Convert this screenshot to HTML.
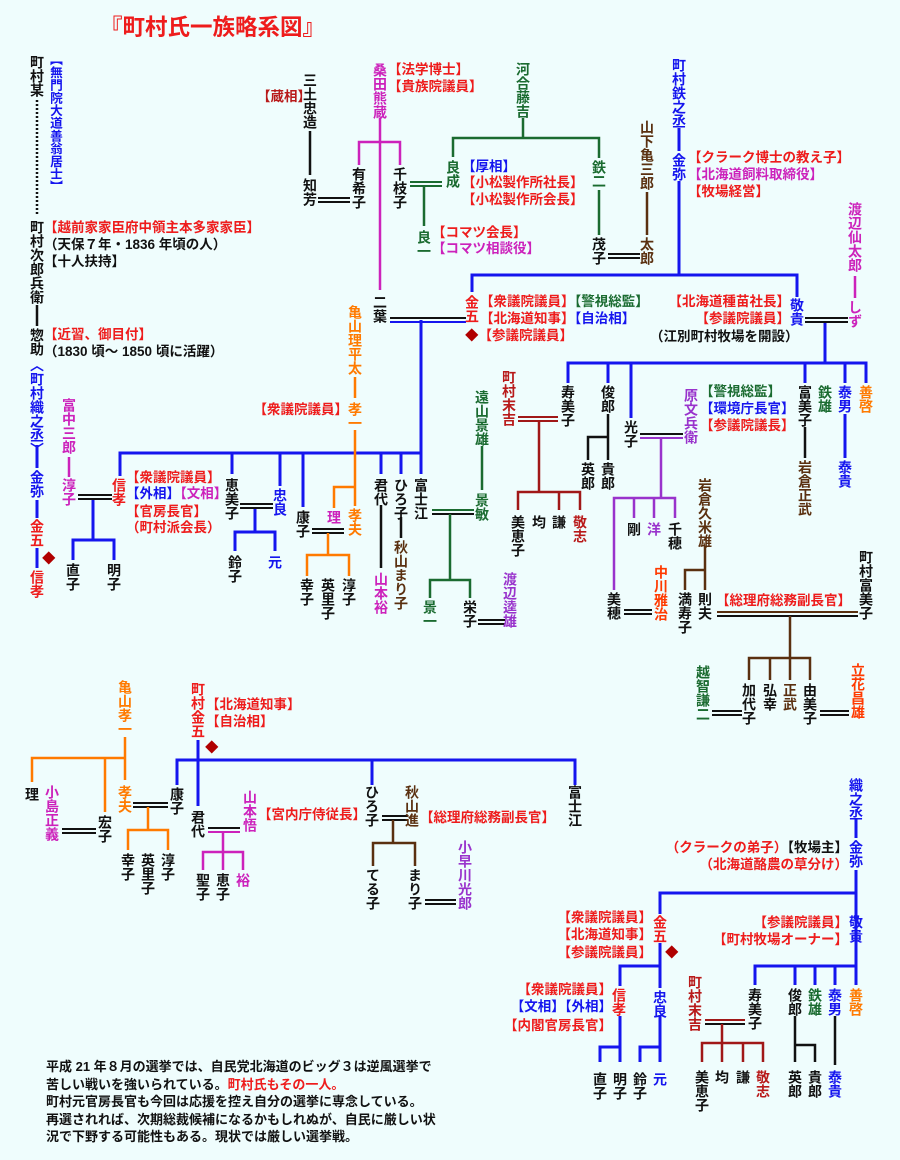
<!DOCTYPE html>
<html><head><meta charset="utf-8"><style>
html,body{margin:0;padding:0}
body{width:900px;height:1160px;background:#effdfd;position:relative;overflow:hidden;font-family:"Liberation Sans","Noto Sans CJK JP",sans-serif;}
.v{position:absolute;writing-mode:vertical-rl;text-orientation:upright;font-size:14px;line-height:14px;width:14px;white-space:nowrap;font-weight:bold}
.h{position:absolute;white-space:nowrap;font-size:13.5px;line-height:16px;font-weight:bold}
.k{color:#111}.b{color:#1515ee}.r{color:#ee1c1c}.dr{color:#b81a1a}.m{color:#cc22bb}.g{color:#1a6b30}.o{color:#ff7a00}.p{color:#9933cc}.br{color:#5a3010}.or{color:#ff3a00}
svg{position:absolute;left:0;top:0}
.dia{color:#b00000}
</style></head><body>
<svg width="900" height="1160" xmlns="http://www.w3.org/2000/svg" fill="none" stroke-width="2.5">
<!-- left column -->
<line x1="37" y1="100" x2="37" y2="215" stroke="#111" stroke-dasharray="2,2"/>
<line x1="37" y1="305" x2="37" y2="326" stroke="#111"/>
<g stroke="#1515ee" stroke-width="3">
<line x1="37" y1="445" x2="37" y2="468"/><line x1="37" y1="500" x2="37" y2="518"/><line x1="37" y1="548" x2="37" y2="568"/>
<path d="M93 499V540M73 560V540H114V560"/>
<path d="M120 476V453H421M232 453V474M280 453V486M303 453V507M381 453V474M401 453V474M421 320V474"/>
<path d="M255 508V532M235 551V532H275V551"/>
<path d="M679 128V151M679 181V275M472 292V275H797V297"/>
<path d="M825 322V363M568 383V363H866V383M608 363V383M631 363V418M805 363V383M845 363V383"/>
<line x1="845" y1="414" x2="845" y2="458"/>
<path d="M198 740V806M177 785V760H575V785M372 760V785"/>
<path d="M856 818V838M856 870V985M660 914V893H856M755 985V966H856M795 966V985M815 966V985M835 966V985"/>
<path d="M660 943V988M660 1015V1062M640 1062V1047H660M620 986V966H660M620 1016V1062M600 1062V1047H620"/>
</g>
<line x1="69" y1="457" x2="69" y2="477" stroke="#cc22bb"/>
<path d="M78 495H112M78 499H112" stroke="#111" stroke-width="2"/>
<path d="M355 377V398M355 430V506M334 508V487H355" stroke="#ff7a00" stroke-width="2.5"/>
<path d="M240 504H273M312 529H344M382 816H408M425 900H456M62 829H96M133 803H168M608 254H640M318 198H350M624 610H652M712 711H742M820 711H849M478 620H505" stroke="#111" stroke-width="2"/>
<path d="M240 508H273M312 533H344M382 820H408M425 904H456M62 833H96M133 807H168M608 258H640M318 202H350M624 614H652M712 715H742M820 715H849M478 624H505" stroke="#111" stroke-width="2"/>
<path d="M328 533V555M307 576V555H349V576M148 807V830M128 850V830H168V850M125 737V780M32 782V758H125M105 758V812" stroke="#ff7a00"/>
<line x1="381" y1="505" x2="381" y2="568" stroke="#111"/>
<line x1="401" y1="517" x2="401" y2="538" stroke="#111"/>
<path d="M432 510H474" stroke="#1a6b30" stroke-width="2"/><path d="M432 514H474" stroke="#111" stroke-width="2"/>
<path d="M450 514V580M430 598V580H470V598M482 446V490" stroke="#1a6b30"/>
<line x1="310" y1="131" x2="310" y2="175" stroke="#111"/>
<path d="M380 118V290M359 165V142H400V165" stroke="#cc22bb"/>
<path d="M410 182H442M410 186H442" stroke="#1a6b30" stroke-width="2"/>
<path d="M424 186V226M523 118V138M453 157V138H599V158M599 190V235" stroke="#1a6b30"/>
<line x1="647" y1="192" x2="647" y2="235" stroke="#5a3010"/>
<path d="M390 318H466" stroke="#111" stroke-width="2"/><path d="M390 322H466" stroke="#1515ee" stroke-width="2"/>
<line x1="855" y1="276" x2="855" y2="298" stroke="#cc22bb"/>
<path d="M805 318H848M805 322H848" stroke="#111" stroke-width="2"/>
<path d="M518 417H558M518 421H558" stroke="#a01818" stroke-width="2"/>
<path d="M539 421V492M518 510V492H580V510M559 492V510" stroke="#a01818"/>
<path d="M608 414V460M588 460V437H608" stroke="#111"/>
<path d="M640 434H683" stroke="#111" stroke-width="2"/><path d="M640 438H683" stroke="#9933cc" stroke-width="2"/>
<path d="M661 438V498M614 590V498H675V518M634 498V518M654 498V518" stroke="#9933cc"/>
<path d="M705 546V590M685 590V570H705" stroke="#5a3010"/>
<path d="M717 612H858" stroke="#5a3010" stroke-width="2"/><path d="M717 616H858" stroke="#111" stroke-width="2"/>
<path d="M790 616V658M749 680V658H810V680M770 658V680M790 658V680" stroke="#5a3010"/>
<line x1="805" y1="427" x2="805" y2="458" stroke="#111"/>
<path d="M208 828H240" stroke="#111" stroke-width="2"/><path d="M208 832H240" stroke="#cc22bb" stroke-width="2"/>
<path d="M223 832V852M203 870V852H243V870M223 852V870" stroke="#cc22bb"/>
<path d="M393 820V843M373 866V843H415V866" stroke="#5a3010"/>
<path d="M705 1020H745" stroke="#a01818" stroke-width="2"/><path d="M705 1024H745" stroke="#111" stroke-width="2"/>
<path d="M722 1024V1062M702 1062V1043H763V1062M743 1043V1062" stroke="#a01818"/>
<path d="M795 1016V1062M815 1062V1045H795M835 1016V1065" stroke="#111"/>
</svg>

<div class="h r" style="left:100px;top:14px;font-size:22.5px;line-height:28px">『町村氏一族略系図』</div>

<div class="v k" style="left:30px;top:55px">町村某</div>
<div class="v b" style="left:47px;top:53px;font-size:12.7px;line-height:13px">【無門院大道善翁居士】</div>
<div class="v k" style="left:30px;top:220px">町村次郎兵衛</div>
<div class="v k" style="left:30px;top:328px">惣助</div>
<div class="v b" style="left:30px;top:358px">〈町村織之丞〉</div>
<div class="v b" style="left:30px;top:470px">金弥</div>
<div class="v r" style="left:30px;top:519px">金五</div>
<div class="v r" style="left:30px;top:570px">信孝</div>
<div class="h dia" style="left:42px;top:551px">◆</div>
<div class="h r" style="left:44px;top:220px">【越前家家臣府中領主本多家家臣】</div>
<div class="h k" style="left:44px;top:237px">（天保７年・1836 年頃の人）</div>
<div class="h k" style="left:44px;top:254px">【十人扶持】</div>
<div class="h r" style="left:44px;top:327px">【近習、御目付】</div>
<div class="h k" style="left:44px;top:344px">（1830 頃～ 1850 頃に活躍）</div>

<div class="v m" style="left:62px;top:398px">富中三郎</div>
<div class="v m" style="left:62px;top:478px">淳子</div>
<div class="v k" style="left:66px;top:563px">直子</div>
<div class="v k" style="left:107px;top:563px">明子</div>
<div class="v r" style="left:112px;top:478px">信孝</div>
<div class="h r" style="left:126px;top:470px">【衆議院議員】</div>
<div class="h" style="left:126px;top:486px"><span class="b">【外相】</span><span class="m">【文相】</span></div>
<div class="h r" style="left:126px;top:504px">【官房長官】</div>
<div class="h r" style="left:126px;top:520px">（町村派会長）</div>
<div class="v k" style="left:225px;top:478px">恵美子</div>
<div class="v b" style="left:273px;top:488px">忠良</div>
<div class="v k" style="left:296px;top:510px">康子</div>
<div class="v m" style="left:327px;top:510px">理</div>
<div class="v o" style="left:348px;top:508px">孝夫</div>
<div class="v k" style="left:374px;top:478px">君代</div>
<div class="v k" style="left:394px;top:478px">ひろ子</div>
<div class="v k" style="left:414px;top:478px">富士江</div>
<div class="v k" style="left:228px;top:555px">鈴子</div>
<div class="v b" style="left:268px;top:555px">元</div>
<div class="v k" style="left:300px;top:578px">幸子</div>
<div class="v k" style="left:321px;top:578px">英里子</div>
<div class="v k" style="left:342px;top:578px">淳子</div>
<div class="v m" style="left:374px;top:572px">山本裕</div>
<div class="v br" style="left:394px;top:540px">秋山まり子</div>
<div class="v g" style="left:423px;top:600px">景一</div>
<div class="v k" style="left:463px;top:600px">栄子</div>
<div class="v p" style="left:503px;top:572px">渡辺逵雄</div>
<div class="v g" style="left:475px;top:390px">遠山景雄</div>
<div class="v g" style="left:475px;top:493px">景敏</div>
<div class="v o" style="left:348px;top:305px">亀山理平太</div>
<div class="v o" style="left:348px;top:402px">孝一</div>
<div class="h r" style="right:552px;top:402px">【衆議院議員】</div>

<div class="h dr" style="left:257px;top:89px">【蔵相】</div>
<div class="v k" style="left:303px;top:73px">三土忠造</div>
<div class="v k" style="left:303px;top:178px">知芳</div>
<div class="v m" style="left:373px;top:63px">桑田熊蔵</div>
<div class="h r" style="left:388px;top:62px">【法学博士】</div>
<div class="h r" style="left:388px;top:79px">【貴族院議員】</div>
<div class="v k" style="left:352px;top:167px">有希子</div>
<div class="v k" style="left:393px;top:167px">千枝子</div>
<div class="v k" style="left:373px;top:295px">二葉</div>
<div class="v g" style="left:417px;top:230px">良一</div>
<div class="h r" style="left:432px;top:225px">【コマツ会長】</div>
<div class="h m" style="left:432px;top:241px">【コマツ相談役】</div>
<div class="v g" style="left:516px;top:62px">河合藤吉</div>
<div class="v g" style="left:446px;top:160px">良成</div>
<div class="h b" style="left:462px;top:159px">【厚相】</div>
<div class="h r" style="left:462px;top:175px">【小松製作所社長】</div>
<div class="h r" style="left:462px;top:192px">【小松製作所会長】</div>
<div class="v g" style="left:592px;top:160px">鉄二</div>
<div class="v k" style="left:592px;top:237px">茂子</div>
<div class="v br" style="left:640px;top:120px">山下亀三郎</div>
<div class="v br" style="left:640px;top:237px">太郎</div>
<div class="v b" style="left:672px;top:58px">町村鉄之丞</div>
<div class="v b" style="left:672px;top:153px">金弥</div>
<div class="h r" style="left:688px;top:150px">【クラーク博士の教え子】</div>
<div class="h m" style="left:688px;top:167px">【北海道飼料取締役】</div>
<div class="h r" style="left:688px;top:184px">【牧場経営】</div>
<div class="v r" style="left:465px;top:295px">金五</div>
<div class="h" style="left:480px;top:294px"><span class="r">【衆議院議員】</span><span class="g">【警視総監】</span></div>
<div class="h" style="left:480px;top:311px"><span class="r">【北海道知事】</span><span class="b">【自治相】</span></div>
<div class="h r" style="left:465px;top:328px"><span class="dia">◆</span>【参議院議員】</div>
<div class="v b" style="left:790px;top:298px">敬貴</div>
<div class="h r" style="right:110px;top:294px">【北海道種苗社長】</div>
<div class="h r" style="right:110px;top:311px">【参議院議員】</div>
<div class="h k" style="left:650px;top:329px">（江別町村牧場を開設）</div>
<div class="v m" style="left:848px;top:202px">渡辺仙太郎</div>
<div class="v m" style="left:848px;top:300px">しず</div>

<div class="v k" style="left:561px;top:385px">寿美子</div>
<div class="v k" style="left:601px;top:385px">俊郎</div>
<div class="v k" style="left:624px;top:420px">光子</div>
<div class="v k" style="left:798px;top:385px">富美子</div>
<div class="v g" style="left:818px;top:385px">鉄雄</div>
<div class="v b" style="left:838px;top:385px">泰男</div>
<div class="v o" style="left:859px;top:385px">善啓</div>
<div class="v dr" style="left:502px;top:370px">町村末吉</div>
<div class="v k" style="left:511px;top:515px">美恵子</div>
<div class="v k" style="left:532px;top:515px">均</div>
<div class="v k" style="left:552px;top:515px">謙</div>
<div class="v dr" style="left:573px;top:515px">敬志</div>
<div class="v k" style="left:581px;top:462px">英郎</div>
<div class="v k" style="left:601px;top:462px">貴郎</div>
<div class="v p" style="left:684px;top:388px">原文兵衛</div>
<div class="h g" style="left:700px;top:384px">【警視総監】</div>
<div class="h b" style="left:700px;top:401px">【環境庁長官】</div>
<div class="h r" style="left:700px;top:418px">【参議院議長】</div>
<div class="v k" style="left:627px;top:522px">剛</div>
<div class="v p" style="left:647px;top:522px">洋</div>
<div class="v k" style="left:668px;top:522px">千穂</div>
<div class="v k" style="left:607px;top:592px">美穂</div>
<div class="v or" style="left:654px;top:565px">中川雅治</div>
<div class="v br" style="left:698px;top:478px">岩倉久米雄</div>
<div class="v k" style="left:678px;top:592px">満寿子</div>
<div class="v k" style="left:698px;top:592px">則夫</div>
<div class="h r" style="left:716px;top:593px">【総理府総務副長官】</div>
<div class="v k" style="left:859px;top:550px">町村富美子</div>
<div class="v k" style="left:742px;top:683px">加代子</div>
<div class="v k" style="left:763px;top:683px">弘幸</div>
<div class="v br" style="left:783px;top:683px">正武</div>
<div class="v k" style="left:803px;top:683px">由美子</div>
<div class="v g" style="left:696px;top:665px">越智謙二</div>
<div class="v or" style="left:851px;top:663px">立花昌雄</div>
<div class="v br" style="left:798px;top:460px">岩倉正武</div>
<div class="v b" style="left:838px;top:460px">泰貴</div>

<!-- bottom left -->
<div class="v o" style="left:118px;top:680px">亀山孝一</div>
<div class="v k" style="left:25px;top:787px">理</div>
<div class="v m" style="left:45px;top:785px">小島正義</div>
<div class="v k" style="left:98px;top:815px">宏子</div>
<div class="v o" style="left:118px;top:785px">孝夫</div>
<div class="v k" style="left:121px;top:853px">幸子</div>
<div class="v k" style="left:141px;top:853px">英里子</div>
<div class="v k" style="left:161px;top:853px">淳子</div>
<div class="v r" style="left:191px;top:682px">町村金五</div>
<div class="h r" style="left:206px;top:697px">【北海道知事】</div>
<div class="h r" style="left:206px;top:714px">【自治相】</div>
<div class="h dia" style="left:205px;top:740px">◆</div>
<div class="v k" style="left:170px;top:787px">康子</div>
<div class="v k" style="left:191px;top:810px">君代</div>
<div class="v m" style="left:243px;top:790px">山本悟</div>
<div class="h r" style="left:258px;top:807px">【宮内庁侍従長】</div>
<div class="v k" style="left:196px;top:873px">聖子</div>
<div class="v k" style="left:216px;top:873px">恵子</div>
<div class="v m" style="left:236px;top:873px">裕</div>
<div class="v k" style="left:365px;top:785px">ひろ子</div>
<div class="v br" style="left:405px;top:785px">秋山進</div>
<div class="h r" style="left:420px;top:810px">【総理府総務副長官】</div>
<div class="v k" style="left:366px;top:868px">てる子</div>
<div class="v k" style="left:408px;top:868px">まり子</div>
<div class="v p" style="left:458px;top:840px">小早川光郎</div>
<div class="v k" style="left:568px;top:785px">富士江</div>

<!-- bottom right -->
<div class="v b" style="left:849px;top:778px">織之丞</div>
<div class="v b" style="left:849px;top:840px">金弥</div>
<div class="h" style="right:52px;top:840px"><span class="r">（クラークの弟子）</span><span class="k">【牧場主】</span></div>
<div class="h r" style="right:52px;top:857px">（北海道酪農の草分け）</div>
<div class="v r" style="left:653px;top:915px">金五</div>
<div class="h r" style="right:248px;top:910px">【衆議院議員】</div>
<div class="h r" style="right:248px;top:927px">【北海道知事】</div>
<div class="h r" style="right:248px;top:945px">【参議院議員】</div>
<div class="h dia" style="left:665px;top:945px">◆</div>
<div class="v b" style="left:849px;top:915px">敬貴</div>
<div class="h r" style="right:52px;top:915px">【参議院議員】</div>
<div class="h r" style="right:52px;top:932px">【町村牧場オーナー】</div>
<div class="v r" style="left:612px;top:988px">信孝</div>
<div class="v b" style="left:653px;top:990px">忠良</div>
<div class="h r" style="right:288px;top:982px">【衆議院議員】</div>
<div class="h b" style="right:288px;top:999px">【文相】【外相】</div>
<div class="h r" style="right:288px;top:1018px">【内閣官房長官】</div>
<div class="v k" style="left:593px;top:1072px">直子</div>
<div class="v k" style="left:613px;top:1072px">明子</div>
<div class="v k" style="left:633px;top:1072px">鈴子</div>
<div class="v b" style="left:653px;top:1072px">元</div>
<div class="v dr" style="left:688px;top:975px">町村末吉</div>
<div class="v k" style="left:748px;top:988px">寿美子</div>
<div class="v k" style="left:788px;top:988px">俊郎</div>
<div class="v g" style="left:808px;top:988px">鉄雄</div>
<div class="v b" style="left:828px;top:988px">泰男</div>
<div class="v o" style="left:849px;top:988px">善啓</div>
<div class="v k" style="left:695px;top:1070px">美恵子</div>
<div class="v k" style="left:715px;top:1070px">均</div>
<div class="v k" style="left:736px;top:1070px">謙</div>
<div class="v dr" style="left:756px;top:1070px">敬志</div>
<div class="v k" style="left:788px;top:1070px">英郎</div>
<div class="v k" style="left:808px;top:1070px">貴郎</div>
<div class="v b" style="left:828px;top:1070px">泰貴</div>

<div class="h k" style="left:46px;top:1058px;font-size:13px;line-height:17.5px">平成 21 年８月の選挙では、自民党北海道のビッグ３は逆風選挙で<br>苦しい戦いを強いられている。<span class="r">町村氏もその一人。</span><br>町村元官房長官も今回は応援を控え自分の選挙に専念している。<br>再選されれば、次期総裁候補になるかもしれぬが、自民に厳しい状<br>況で下野する可能性もある。現状では厳しい選挙戦。</div>
</body></html>
